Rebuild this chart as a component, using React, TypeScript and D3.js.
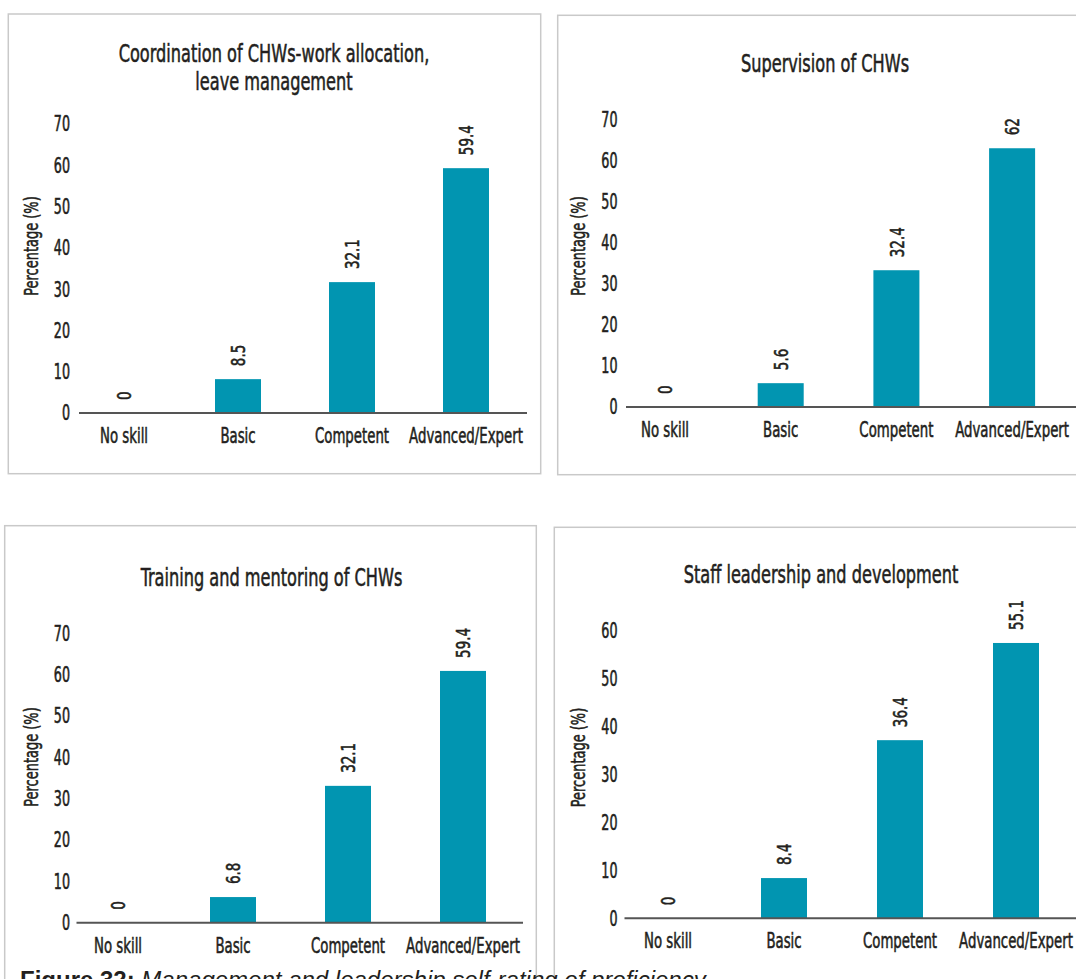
import React from "react";
import * as d3 from "d3";

// ---------- data ----------
const categories = ["No skill", "Basic", "Competent", "Advanced/Expert"];

const coordinationTitle = ["Coordination of CHWs-work allocation,", "leave management"];
const coordinationBars = [0, 8.2, 31.7, 59.3];
const coordinationLabels = ["0", "8.5", "32.1", "59.4"];

const supervisionTitle = ["Supervision of CHWs"];
const supervisionBars = [0, 5.8, 33.3, 63.0];
const supervisionLabels = ["0", "5.6", "32.4", "62"];

const trainingTitle = ["Training and mentoring of CHWs"];
const trainingBars = [0, 6.2, 33.1, 60.9];
const trainingLabels = ["0", "6.8", "32.1", "59.4"];

const leadershipTitle = ["Staff leadership and development"];
const leadershipBars = [0, 8.4, 37.2, 57.5];
const leadershipLabels = ["0", "8.4", "36.4", "55.1"];

const ticks70 = [0, 10, 20, 30, 40, 50, 60, 70];
const ticks60 = [0, 10, 20, 30, 40, 50, 60];

const yAxisTitle = "Percentage (%)";
const captionBold = "Figure 32:";
const captionRest = " Management and leadership self-rating of proficiency";

// ---------- layout / style ----------
const FONT = "'DejaVu Sans Condensed', 'Liberation Sans Narrow', 'Arial Narrow', sans-serif";
const TEXT = "#231f20";
const BAR = "#0195b1";
const AXIS = "#555555";
const BORDER = "#c9c9c9";
const SX = 0.705;
const BAR_W = 46;

const panels = [
  {
    title: coordinationTitle, bars: coordinationBars, labels: coordinationLabels, ticks: ticks70, max: 70,
    c0: 124, step: 114, y0: 413, yTop: 124, axisX: [79, 527], tickRight: 70,
    yTitle: [31, 246], titleX: 274, titleY: [62, 89.5], xLabelY: 443,
    border: { x: 8.3, y: 14, w: 532.4, h: 459.7 },
  },
  {
    title: supervisionTitle, bars: supervisionBars, labels: supervisionLabels, ticks: ticks70, max: 70,
    c0: 665, step: 115.7, y0: 407, yTop: 119.5, axisX: [626, 1076], tickRight: 617.5,
    yTitle: [578, 246], titleX: 825, titleY: [71.7], xLabelY: 437,
    border: { x: 557.7, y: 15.3, w: 600, h: 459.4 },
  },
  {
    title: trainingTitle, bars: trainingBars, labels: trainingLabels, ticks: ticks70, max: 70,
    c0: 118, step: 115, y0: 922.7, yTop: 633.3, axisX: [76.5, 523], tickRight: 70,
    yTitle: [31, 757], titleX: 271.5, titleY: [586], xLabelY: 953.3,
    border: { x: 4.7, y: 525.7, w: 531.6, h: 500 },
  },
  {
    title: leadershipTitle, bars: leadershipBars, labels: leadershipLabels, ticks: ticks60, max: 60,
    c0: 668, step: 116, y0: 918.3, yTop: 631, axisX: [624.5, 1076], tickRight: 617.5,
    yTitle: [578, 757.5], titleX: 821, titleY: [583.3], xLabelY: 948.3,
    border: { x: 554.3, y: 527.3, w: 600, h: 500 },
  },
];

function CText({ x, y, size, sx = SX, anchor = "middle", rotate = 0, dy, children }: any) {
  return (
    <g transform={`translate(${x},${y}) rotate(${rotate}) scale(${sx},1)`}>
      <text textAnchor={anchor} fontSize={size} dy={dy} fill={TEXT} fontFamily={FONT}
        stroke={TEXT} strokeWidth={0.55}>
        {children}
      </text>
    </g>
  );
}

function Panel({ p }: any) {
  const x = d3.scalePoint<string>().domain(categories).range([p.c0, p.c0 + 3 * p.step]);
  const y = d3.scaleLinear().domain([0, p.max]).range([p.y0, p.yTop]);
  return (
    <g>
      <rect x={p.border.x} y={p.border.y} width={p.border.w} height={p.border.h}
        fill="none" stroke={BORDER} strokeWidth={1.5} />
      {p.title.map((t: string, i: number) => (
        <CText key={i} x={p.titleX} y={p.titleY[i]} size={25.5}>{t}</CText>
      ))}
      {p.ticks.map((t: number) => (
        <CText key={t} x={p.tickRight} y={y(t)} size={20.5} sx={0.69} anchor="end" dy="0.36em">{t}</CText>
      ))}
      <CText x={p.yTitle[0]} y={p.yTitle[1]} size={19.5} sx={0.74} rotate={-90} dy="0.35em">{yAxisTitle}</CText>
      {categories.map((c, i) => (
        <rect key={c} x={(x(c) as number) - BAR_W / 2} y={y(p.bars[i])} width={BAR_W}
          height={y(0) - y(p.bars[i])} fill={BAR} />
      ))}
      <line x1={p.axisX[0]} x2={p.axisX[1]} y1={y(0)} y2={y(0)} stroke={AXIS} strokeWidth={2} />
      {categories.map((c, i) => (
        <CText key={c} x={x(c)} y={y(p.bars[i]) - 13} size={20} sx={0.75} rotate={-90} anchor="start" dy="0.36em">
          {p.labels[i]}
        </CText>
      ))}
      {categories.map((c) => (
        <CText key={c} x={x(c)} y={p.xLabelY} size={21}>{c}</CText>
      ))}
    </g>
  );
}

export default function App() {
  return (
    <svg width={1076} height={979} viewBox="0 0 1076 979"
      style={{ position: "absolute", left: 0, top: 0, background: "#fff" }}>
      <rect x={0} y={0} width={1076} height={979} fill="#fff" />
      {panels.map((p, i) => <Panel key={i} p={p} />)}
      <text x={20} y={988} fontSize={24} fill={TEXT} fontFamily="'Liberation Sans', Arial, sans-serif">
        <tspan fontWeight="bold">{captionBold}</tspan>
        <tspan fontStyle="italic">{captionRest}</tspan>
      </text>
    </svg>
  );
}
